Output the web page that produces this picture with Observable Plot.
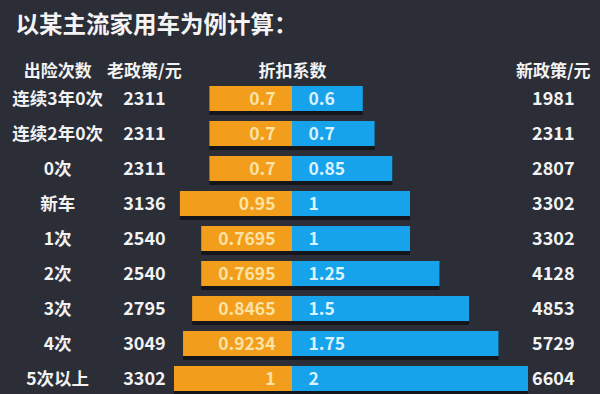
<!DOCTYPE html>
<html><head><meta charset="utf-8">
<script src="https://cdn.jsdelivr.net/npm/d3@7"></script>
<script src="https://cdn.jsdelivr.net/npm/@observablehq/plot@0.6"></script>
<style>
html,body{margin:0;padding:0;background:#2b2d37;}
svg{display:block;}
</style></head>
<body>
<div id="chart"></div>
<script>
const title = "以某主流家用车为例计算：";
const headers = ["出险次数", "老政策/元", "折扣系数", "新政策/元"];
const categories = ["连续3年0次", "连续2年0次", "0次", "新车", "1次", "2次", "3次", "4次", "5次以上"];
const oldPremium = [2311, 2311, 2311, 3136, 2540, 2540, 2795, 3049, 3302];
const oldFactor = ["0.7", "0.7", "0.7", "0.95", "0.7695", "0.7695", "0.8465", "0.9234", "1"];
const newFactor = ["0.6", "0.7", "0.85", "1", "1", "1.25", "1.5", "1.75", "2"];
const newPremium = [1981, 2311, 2807, 3302, 3302, 4128, 4853, 5729, 6604];

const rows = categories.map((c, i) => ({
  cat: c, oldP: oldPremium[i], oldF: +oldFactor[i], oldFL: oldFactor[i],
  newF: +newFactor[i], newFL: newFactor[i], newP: newPremium[i]
}));

// column anchors in factor units (center axis = 0)
const colCat = -1.99, colOld = -1.255, colMid = 0, colNew = 2.21;
const headerCols = [colCat, colOld, colMid, colNew];
const headerRows = headers.map((h, i) => ({h, x: headerCols[i]}));

const orange = "#f29e1c", blue = "#17a2ec";
const font = "'Noto Sans CJK SC', 'Noto Sans', sans-serif";

const chart = Plot.plot({
  width: 600, height: 394,
  marginTop: 0, marginBottom: 0, marginLeft: 0, marginRight: 0,
  style: {background: "#2b2d37", fontFamily: font},
  x: {domain: [-292/118, 308/118], range: [0, 600], axis: null},
  y: {domain: categories, range: [79.95, 396.05], paddingInner: 0.288, paddingOuter: 0.144, axis: null},
  marks: [
    // shadows
    Plot.barX(rows, {y: "cat", x1: d => -d.oldF, x2: d => d.newF, fill: "#121318", fillOpacity: 0.85, dy: 4}),
    Plot.barX(rows, {y: "cat", x1: d => -d.oldF, x2: 0, fill: orange}),
    Plot.barX(rows, {y: "cat", x1: 0, x2: "newF", fill: blue}),
    Plot.text(rows, {y: "cat", x: 0, text: "oldFL", dx: -17, textAnchor: "end", fill: "#fbe3a6", fontSize: 17.5, fontWeight: "bold"}),
    Plot.text(rows, {y: "cat", x: 0, text: "newFL", dx: 16, textAnchor: "start", fill: "#d9f3ff", fontSize: 17.5, fontWeight: "bold"}),
    Plot.text(rows, {y: "cat", x: () => colCat, text: "cat", fill: "#f2f2f2", fontSize: 17.5, fontWeight: "bold"}),
    Plot.text(rows, {y: "cat", x: () => colOld, text: d => String(d.oldP), fill: "#f2f2f2", fontSize: 18, fontWeight: "bold"}),
    Plot.text(rows, {y: "cat", x: () => colNew, text: d => String(d.newP), fill: "#f2f2f2", fontSize: 18, fontWeight: "bold"}),
    Plot.text(headerRows, {x: "x", text: "h", frameAnchor: "top", dy: 71, lineAnchor: "middle", fill: "#f2f2f2", fontSize: 17, fontWeight: "bold"}),
    Plot.text([title], {text: d => d, frameAnchor: "top-left", dx: 15, dy: 25, lineAnchor: "middle", textAnchor: "start", fill: "#f4f4f4", fontSize: 23.5, fontWeight: "bold"})
  ]
});
document.getElementById("chart").append(chart);
</script>
</body></html>
